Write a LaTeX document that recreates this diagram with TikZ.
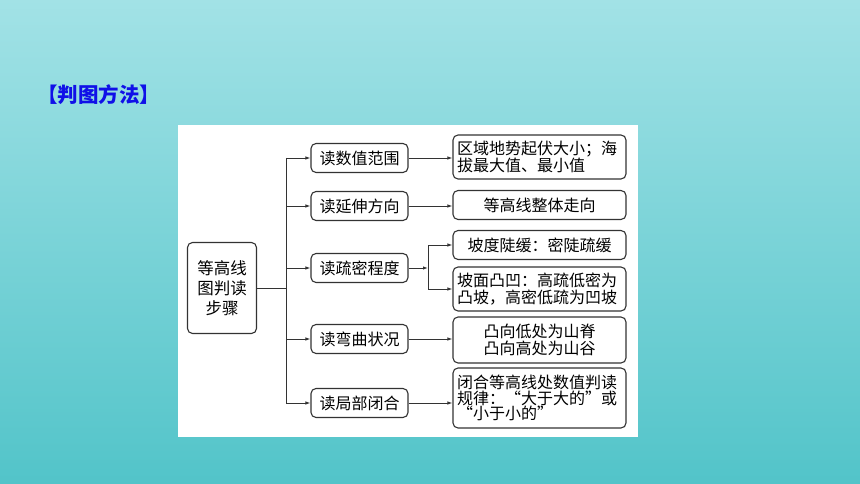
\documentclass[tikz,border=0pt]{standalone}
\usepackage{fontspec}
\newfontfamily\cjk[CharacterWidth=Full]{Noto Sans CJK SC}
\usetikzlibrary{positioning,arrows.meta}
\definecolor{bgtop}{HTML}{A2E2E6}
\definecolor{bgbot}{HTML}{52C4C9}
\definecolor{titleblue}{HTML}{1010E8}
\definecolor{ink}{HTML}{333333}

\begin{document}
\begin{tikzpicture}[x = 1pt, y = -1pt,
  box/.style = {draw = ink, line width = 1.1pt, shape = rectangle, rounded corners = 5pt, inner sep = 2pt, text = black, font = \cjk\fontsize{16}{17.5}\selectfont},
  midbox/.style = {box, minimum width = 97pt, minimum height = 29pt},
  leafbox/.style = {box, text width = 165pt, minimum width = 173pt, minimum height = 29pt, inner xsep = 4pt, align = center},
  link/.style = {draw = ink, line width = 0.9pt},
  arr/.style = {link, -{Latex[length = 5pt, width = 3.5pt]}}]
\useasboundingbox (0,0) rectangle (860,484);
\shade[top color = bgtop, bottom color = bgbot] (0,0) rectangle (860,484);
\fill[white] (178,125) rectangle (638,437);
\node[anchor = west, inner sep = 0pt, text = titleblue, font = \cjk\bfseries\fontsize{20.5}{24}\selectfont] (title) at (37,95) {【判图方法】};

\node[box, minimum width = 69pt, minimum height = 91pt, align = center, font = \cjk\fontsize{16.5}{20}\selectfont] (r) at (222,288) {等高线\\图判读\\步骤};

\node[midbox] (m1) at (359.5,158) {读数值范围};
\node[midbox] (m2) at (359.5,206) {读延伸方向};
\node[midbox] (m3) at (359.5,268) {读疏密程度};
\node[midbox] (m4) at (359.5,339) {读弯曲状况};
\node[midbox] (m5) at (359.5,403) {读局部闭合};

\node[leafbox, minimum height = 44pt, align = left] (l1) at (539.5,157) {区域地势起伏大小；海\\拔最大值、最小值};
\node[leafbox] (l2) at (539.5,205) {等高线整体走向};
\node[leafbox] (l3) at (539.5,245) {坡度陡缓：密陡疏缓};
\node[leafbox, minimum height = 44pt, align = left] (l4) at (539.5,289) {坡面凸凹：高疏低密为\\凸坡，高密低疏为凹坡};
\node[leafbox, minimum height = 46pt] (l5) at (539.5,340) {凸向低处为山脊\\凸向高处为山谷};
\node[leafbox, minimum height = 60pt, align = left, font = \cjk\fontsize{16}{15.5}\selectfont] (l6) at (539.5,398) {闭合等高线处数值判读\\规律：“大于大的”或\\“小于小的”};

\coordinate (t) at (286,288);
\coordinate (b) at (428,268);
\draw[link] (r.east) -- (t);
\draw[link] (t |- m1) -- (t |- m5);
\foreach \n in {1,...,5}
  \draw[arr] (t |- m\n) -- (m\n.west);
\draw[arr] (m1.east) -- (m1.east -| l1.west);
\draw[arr] (m2.east) -- (m2.east -| l2.west);
\draw[arr] (m3.east) -- (b);
\draw[link] (b |- l3) -- (b |- l4);
\draw[arr] (b |- l3) -- (l3.west);
\draw[arr] (b |- l4) -- (l4.west);
\draw[arr] (m4.east) -- (m4.east -| l5.west);
\draw[arr] (m5.east) -- (m5.east -| l6.west);
\end{tikzpicture}
\end{document}
